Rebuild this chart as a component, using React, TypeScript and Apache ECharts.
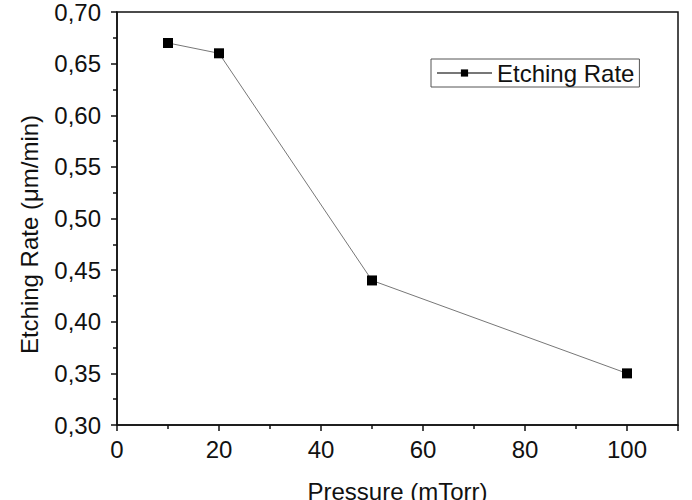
import React, { useEffect, useRef } from "react";
import * as echarts from "echarts";

const pressure = [10, 20, 50, 100];
const etchingRate = [0.67, 0.66, 0.44, 0.35];
const seriesName = "Etching Rate";
const xTitle = "Pressure (mTorr)";
const yTitle = "Etching Rate (μm/min)";

export default function App() {
  const ref = useRef<HTMLDivElement>(null);
  useEffect(() => {
    if (!ref.current) return;
    const chart = echarts.init(ref.current, undefined, { renderer: "svg" });
    const font = "Liberation Sans";
    const txt = { fontFamily: font, fontSize: 24, color: "#111" };
    chart.setOption({
      animation: false,
      backgroundColor: "#fff",
      textStyle: { fontFamily: font, fontSize: 24 },
      grid: {
        left: 117,
        top: 12,
        right: 14,
        bottom: 75,
        containLabel: false,
        outerBoundsMode: "none",
        show: true,
        borderColor: "#111",
        borderWidth: 1.5,
      },
      legend: {
        data: [seriesName],
        left: 431,
        top: 59,
        padding: [2, 5, 2, 5],
        borderColor: "#555",
        borderWidth: 1,
        itemWidth: 55,
        itemHeight: 9,
        itemGap: 8,
        textStyle: txt,
      },
      xAxis: {
        type: "value",
        min: 0,
        max: 110,
        interval: 20,
        name: xTitle,
        nameLocation: "middle",
        nameGap: 54,
        nameTextStyle: txt,
        axisLine: { lineStyle: { color: "#111", width: 1.5 } },
        axisTick: { inside: false, length: 6, lineStyle: { color: "#111", width: 1.5 } },
        minorTick: { show: true, splitNumber: 2, length: 4, lineStyle: { color: "#111", width: 1.5 } },
        axisLabel: { ...txt, margin: 12, showMaxLabel: false },
        splitLine: { show: false },
      },
      yAxis: {
        type: "value",
        min: 0.3,
        max: 0.7,
        interval: 0.05,
        name: yTitle,
        nameLocation: "middle",
        nameGap: 76,
        nameTextStyle: { ...txt, padding: [0, 32, 0, 0] },
        axisLine: { lineStyle: { color: "#111", width: 1.5 } },
        axisTick: { inside: false, length: 6, lineStyle: { color: "#111", width: 1.5 } },
        minorTick: { show: true, splitNumber: 2, length: 4, lineStyle: { color: "#111", width: 1.5 } },
        axisLabel: {
          ...txt,
          margin: 16,
          formatter: (v: number) => v.toFixed(2).replace(".", ","),
        },
        splitLine: { show: false },
      },
      series: [
        {
          name: seriesName,
          type: "line",
          data: pressure.map((p, i) => [p, etchingRate[i]]),
          symbol: "rect",
          symbolSize: 10,
          itemStyle: { color: "#000" },
          lineStyle: { color: "#777", width: 1 },
        },
      ],
    });
    return () => chart.dispose();
  }, []);
  return <div ref={ref} style={{ width: 692, height: 500, position: "absolute", left: 0, top: 0 }} />;
}
